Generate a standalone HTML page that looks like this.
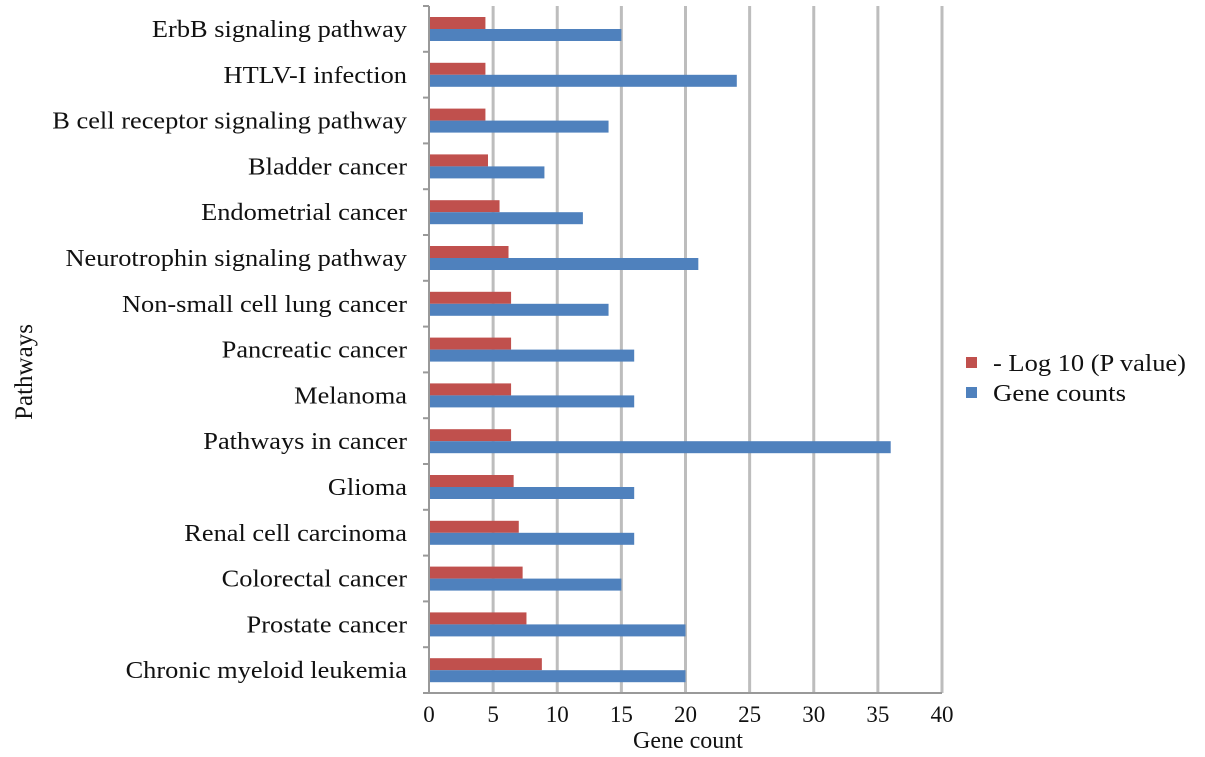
<!DOCTYPE html>
<html><head><meta charset="utf-8"><style>
body{margin:0;background:#fff;}
svg text{font-family:"Liberation Serif",serif;fill:#111;}
</style></head><body>
<svg id="chart" width="1205" height="752" xmlns="http://www.w3.org/2000/svg">
<g id="grid"></g><g id="bars"></g><g id="axes"></g>
<text transform="translate(32,372) rotate(-90)" text-anchor="middle" font-size="25">Pathways</text>
<text x="688" y="748" text-anchor="middle" font-size="24">Gene count</text>
<g>
<rect x="966" y="357" width="11" height="11" fill="#c0504d"/>
<text x="993" y="371" font-size="24" textLength="193" lengthAdjust="spacingAndGlyphs">- Log 10 (P value)</text>
<rect x="966" y="387" width="11" height="11" fill="#4f81bd"/>
<text x="993" y="401" font-size="24" textLength="133" lengthAdjust="spacingAndGlyphs">Gene counts</text>
</g>
</svg>
<script>
const categories=["ErbB signaling pathway","HTLV-I infection","B cell receptor signaling pathway","Bladder cancer","Endometrial cancer","Neurotrophin signaling pathway","Non-small cell lung cancer","Pancreatic cancer","Melanoma","Pathways in cancer","Glioma","Renal cell carcinoma","Colorectal cancer","Prostate cancer","Chronic myeloid leukemia"];
const logP=[4.4,4.4,4.4,4.6,5.5,6.2,6.4,6.4,6.4,6.4,6.6,7.0,7.3,7.6,8.8];
const geneCounts=[15,24,14,9,12,21,14,16,16,36,16,16,15,20,20];
const ticks=[0,5,10,15,20,25,30,35,40];
const NS="http://www.w3.org/2000/svg";
const x0=429,x1=942,yTop=6,yBot=693;
const band=(yBot-yTop)/categories.length;
const xs=v=>x0+(v-0)/(40-0)*(x1-x0);
function mk(p,t,a){const e=document.createElementNS(NS,t);for(const k in a)e.setAttribute(k,a[k]);document.getElementById(p).appendChild(e);return e;}
ticks.forEach((t,i)=>{
 if(t>0){const g=mk('grid','line',{x1:xs(t),x2:xs(t),y1:yTop,y2:yBot,stroke:'#bdbdbd','stroke-width':3});
 
 }
 const tl=mk('axes','text',{x:xs(t),y:722,'text-anchor':'middle','font-size':23});tl.textContent=t;
 
 
});
categories.forEach((c,i)=>{
 const top=yTop+i*band;
 const r=mk('bars','rect',{x:x0,y:top+11,width:xs(logP[i])-x0,height:12,fill:'#c0504d'});
 
 
 const b=mk('bars','rect',{x:x0,y:top+23,width:xs(geneCounts[i])-x0,height:12,fill:'#4f81bd'});
 
 
 const l=mk('axes','text',{x:407,y:top+31,'text-anchor':'end','font-size':24,transform:'translate(407,0) scale(1.1,1) translate(-407,0)'});l.textContent=c;
 
 
});
for(let i=0;i<=categories.length;i++){const y=yTop+i*band;mk('axes','line',{x1:423,x2:x0,y1:y,y2:y,stroke:'#999','stroke-width':2});}
const ya=mk('axes','line',{x1:x0,x2:x0,y1:yTop,y2:yBot,stroke:'#999','stroke-width':2});


const xa=mk('axes','line',{x1:x0,x2:x1,y1:yBot,y2:yBot,stroke:'#999','stroke-width':2});


</script>
</body></html>
